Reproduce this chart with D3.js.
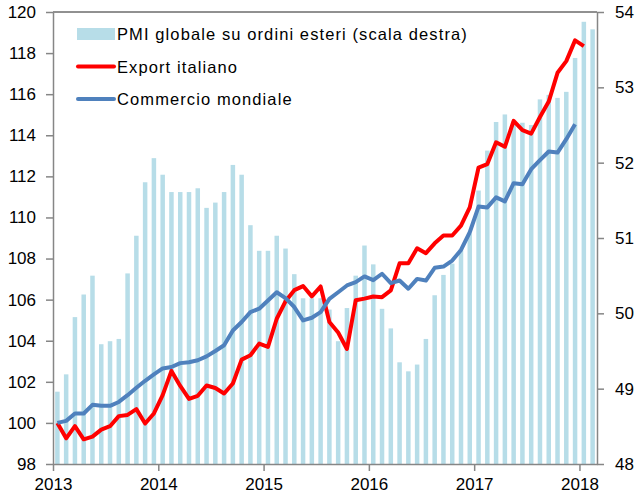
<!DOCTYPE html>
<html>
<head>
<meta charset="utf-8">
<script src="https://cdn.jsdelivr.net/npm/d3@7/dist/d3.min.js"></script>
<style>
  html, body { margin: 0; padding: 0; background: #fff; }
  #chart { width: 638px; height: 491px; overflow: hidden; }
  text { font-family: "Liberation Sans", Arial, sans-serif; fill: #000; }
  .axis text { font-size: 17px; }
  .legend text { font-size: 16.5px; letter-spacing: 1.1px; }
</style>
</head>
<body>
<div id="chart"></div>
<script>
'use strict';

// Monthly categories, Jan 2013 .. Feb 2018
const months = [
  'gen 13', 'feb 13', 'mar 13', 'apr 13', 'mag 13', 'giu 13', 'lug 13', 'ago 13', 'set 13', 'ott 13', 'nov 13', 'dic 13',
  'gen 14', 'feb 14', 'mar 14', 'apr 14', 'mag 14', 'giu 14', 'lug 14', 'ago 14', 'set 14', 'ott 14', 'nov 14', 'dic 14',
  'gen 15', 'feb 15', 'mar 15', 'apr 15', 'mag 15', 'giu 15', 'lug 15', 'ago 15', 'set 15', 'ott 15', 'nov 15', 'dic 15',
  'gen 16', 'feb 16', 'mar 16', 'apr 16', 'mag 16', 'giu 16', 'lug 16', 'ago 16', 'set 16', 'ott 16', 'nov 16', 'dic 16',
  'gen 17', 'feb 17', 'mar 17', 'apr 17', 'mag 17', 'giu 17', 'lug 17', 'ago 17', 'set 17', 'ott 17', 'nov 17', 'dic 17',
  'gen 18', 'feb 18',
];

// PMI globale su ordini esteri (right scale)
const pmiExport = [
  48.96, 49.19, 49.95, 50.25, 50.50, 49.59, 49.63, 49.66, 50.53, 51.03, 51.74, 52.06,
  51.84, 51.61, 51.61, 51.61, 51.66, 51.40, 51.47, 51.61, 51.97, 51.84, 51.17, 50.83,
  50.83, 51.03, 50.86, 50.52, 50.20, 50.20, 50.20, 50.05, 49.63, 50.07, 50.50, 50.90,
  50.65, 50.06, 49.80, 49.35, 49.23, 49.32, 49.66, 50.24, 50.51, 50.66, 50.85, 51.06,
  51.63, 52.16, 52.54, 52.64, 52.55, 52.53, 52.50, 52.84, 52.90, 52.86, 52.94, 53.39,
  53.87, 53.77,
];

// Export italiano (left scale)
const exportItaliano = [
  100.00, 99.25, 99.84, 99.20, 99.33, 99.67, 99.84, 100.33, 100.39, 100.67, 99.97, 100.46,
  101.35, 102.53, 101.80, 101.17, 101.32, 101.82, 101.70, 101.43, 101.92, 103.08, 103.29, 103.86,
  103.70, 105.07, 105.92, 106.46, 106.66, 106.16, 106.64, 104.91, 104.40, 103.60, 105.97, 106.05,
  106.15, 106.12, 106.45, 107.77, 107.77, 108.50, 108.26, 108.74, 109.12, 109.12, 109.60, 110.49,
  112.43, 112.60, 113.66, 113.44, 114.70, 114.25, 114.08, 114.89, 115.64, 117.04, 117.61, 118.62,
  118.34,
];

// Commercio mondiale (left scale)
const commercioMondiale = [
  100.00, 100.10, 100.46, 100.46, 100.88, 100.83, 100.83, 101.02, 101.35, 101.71, 102.05, 102.36,
  102.65, 102.72, 102.91, 102.95, 103.05, 103.24, 103.50, 103.78, 104.50, 104.91, 105.39, 105.56,
  105.96, 106.36, 106.07, 105.64, 104.99, 105.12, 105.39, 106.04, 106.36, 106.69, 106.85, 107.13,
  106.95, 107.26, 106.80, 106.93, 106.53, 107.01, 106.93, 107.55, 107.61, 107.90, 108.42, 109.28,
  110.53, 110.49, 110.98, 110.78, 111.67, 111.62, 112.35, 112.79, 113.21, 113.16, 113.81, 114.54,
];

const yearLabels = ['2013', '2014', '2015', '2016', '2017', '2018'];
const leftTicks = [98, 100, 102, 104, 106, 108, 110, 112, 114, 116, 118, 120];
const rightTicks = [48, 49, 50, 51, 52, 53, 54];

const legendItems = [
  { label: 'PMI globale su ordini esteri (scala destra)', kind: 'bar', color: '#b7dde8' },
  { label: 'Export italiano', kind: 'line', color: '#ff0000' },
  { label: 'Commercio mondiale', kind: 'line', color: '#4f81bd' },
];

const W = 638, H = 491;
const PLOT = { left: 53, right: 597, top: 12, bottom: 464 };

const svg = d3.select('#chart').append('svg')
  .attr('width', W)
  .attr('height', H);

// x: one slot per month, year ticks at slot start
const x = d3.scaleLinear()
  .domain([0, months.length])
  .range([PLOT.left, PLOT.right]);
const xMid = i => x(i + 0.5);

const yL = d3.scaleLinear().domain([98, 120]).range([PLOT.bottom, PLOT.top]);
const yR = d3.scaleLinear().domain([48, 54]).range([PLOT.bottom, PLOT.top]);

const barW = 4.5;

// Bars (PMI, right scale)
svg.append('g')
  .selectAll('rect')
  .data(pmiExport)
  .join('rect')
  .attr('x', (d, i) => xMid(i) - barW / 2)
  .attr('y', d => yR(d))
  .attr('width', barW)
  .attr('height', d => yR(48) - yR(d))
  .attr('fill', legendItems[0].color);

// Lines
const line = d3.line()
  .x((d, i) => xMid(i))
  .y(d => yL(d));

svg.append('path')
  .datum(exportItaliano)
  .attr('d', line)
  .attr('fill', 'none')
  .attr('stroke', legendItems[1].color)
  .attr('stroke-width', 4)
  .attr('stroke-linejoin', 'round');

svg.append('path')
  .datum(commercioMondiale)
  .attr('d', line)
  .attr('fill', 'none')
  .attr('stroke', legendItems[2].color)
  .attr('stroke-width', 4)
  .attr('stroke-linejoin', 'round');

// Top frame line
svg.append('line')
  .attr('x1', PLOT.left).attr('x2', PLOT.right)
  .attr('y1', PLOT.top).attr('y2', PLOT.top)
  .attr('stroke', '#222')
  .attr('stroke-width', 1);

const styleAxis = g => {
  g.attr('font-family', null).attr('font-size', null);
  g.selectAll('.domain, .tick line').attr('stroke', '#868686').attr('stroke-width', 1.5);
  g.selectAll('text').attr('fill', '#000');
};

// Left axis
svg.append('g')
  .attr('class', 'axis')
  .attr('transform', `translate(${PLOT.left},0)`)
  .call(d3.axisLeft(yL).tickValues(leftTicks).tickFormat(d3.format('d'))
    .tickSize(7).tickSizeOuter(0).tickPadding(10))
  .call(styleAxis);

// Right axis
svg.append('g')
  .attr('class', 'axis')
  .attr('transform', `translate(${PLOT.right},0)`)
  .call(d3.axisRight(yR).tickValues(rightTicks).tickFormat(d3.format('d'))
    .tickSize(7).tickSizeOuter(0).tickPadding(11))
  .call(styleAxis);

// Bottom axis: a tick at each January
const yearIdx = yearLabels.map(yr => months.indexOf('gen ' + yr.slice(2)));
svg.append('g')
  .attr('class', 'axis')
  .attr('transform', `translate(0,${PLOT.bottom})`)
  .call(d3.axisBottom(x).tickValues(yearIdx).tickFormat((d, i) => yearLabels[i])
    .tickSize(7).tickSizeOuter(0).tickPadding(7))
  .call(styleAxis);

// Legend
const lg = svg.append('g').attr('class', 'legend');
legendItems.forEach((item, i) => {
  const cy = 34 + i * 32.5;
  if (item.kind === 'bar') {
    lg.append('rect')
      .attr('x', 77).attr('y', cy - 6)
      .attr('width', 38).attr('height', 12)
      .attr('fill', item.color);
  } else {
    lg.append('line')
      .attr('x1', 78).attr('x2', 114)
      .attr('y1', cy).attr('y2', cy)
      .attr('stroke', item.color)
      .attr('stroke-width', 4)
      .attr('stroke-linecap', 'round');
  }
  lg.append('text')
    .attr('x', 117)
    .attr('y', cy + 6)
    .text(item.label);
});
</script>
</body>
</html>
